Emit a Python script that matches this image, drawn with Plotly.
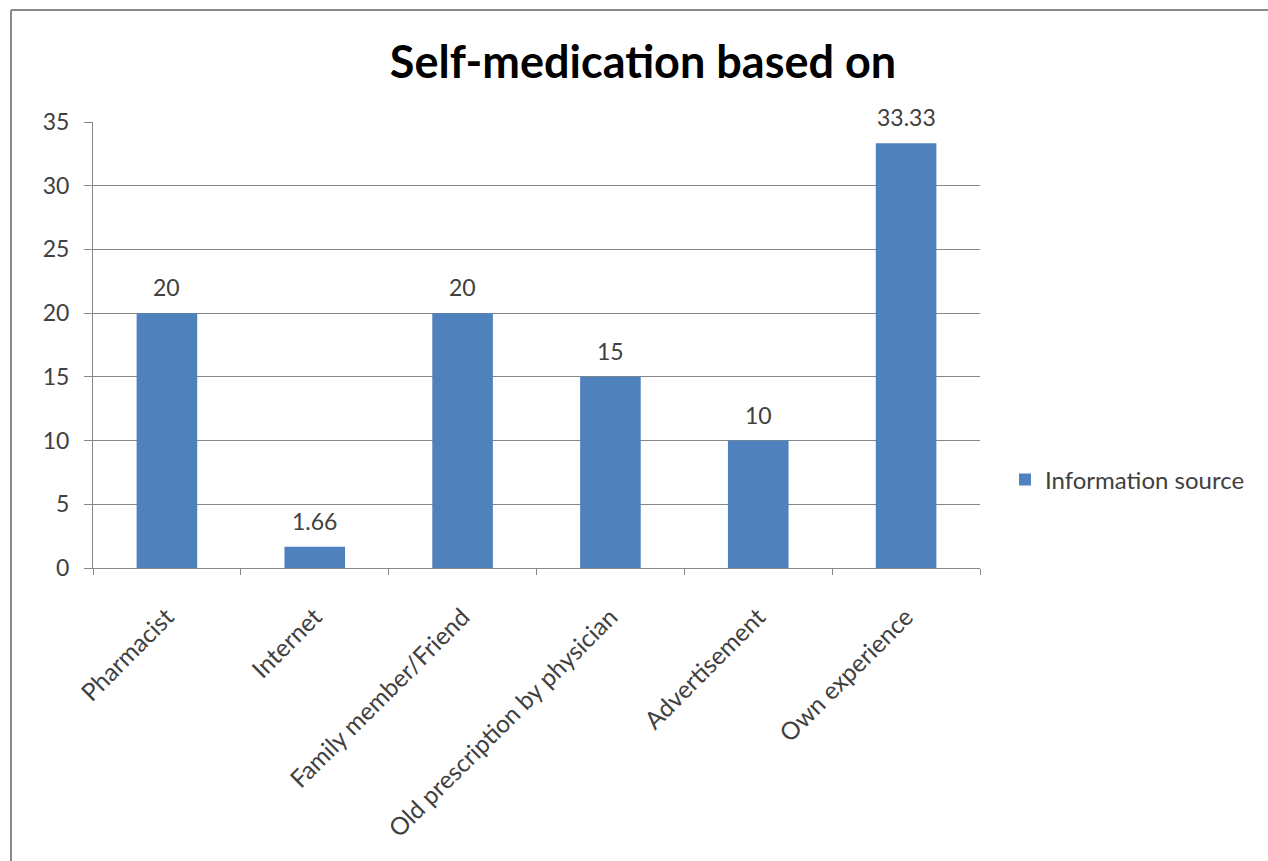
import plotly.graph_objects as go

categories = ["Pharmacist", "Internet", "Family member/Friend",
              "Old prescription by physician", "Advertisement", "Own experience"]
values = [20, 1.66, 20, 15, 10, 33.33]
labels = ["20", "1.66", "20", "15", "10", "33.33"]
series_name = "Information source"
y_ticks = [0, 5, 10, 15, 20, 25, 30, 35]

W, H = 1268, 861
L, R, T, B = 93, 980, 122, 568
pw, ph = R - L, B - T

def px(x):
    return (x - L) / pw

def py(y):
    return (B - y) / ph

font = "Lato, 'Open Sans', sans-serif"
txt = "#404040"

fig = go.Figure(go.Bar(
    x=categories, y=values, name=series_name,
    marker=dict(color="#4F81BD", line=dict(width=0)),
    showlegend=True,
))

for c, v, t in zip(categories, values, labels):
    fig.add_annotation(x=c, y=v, text=t, showarrow=False, yanchor="bottom",
                       yshift=10, font=dict(size=23, color=txt, family=font))

fig.update_layout(
    width=W, height=H,
    margin=dict(l=L, r=W - R, t=T, b=H - B),
    paper_bgcolor="white", plot_bgcolor="white",
    bargap=0.59,
    title=dict(text="<b>Self-medication based on</b>", x=643 / W, xanchor="center",
               y=1 - 62 / H, yanchor="middle",
               font=dict(size=45, color="black", family=font)),
    font=dict(family=font, color=txt),
    legend=dict(x=px(1005), y=py(480), xanchor="left", yanchor="middle",
                font=dict(size=24, color=txt), bgcolor="rgba(0,0,0,0)"),
    xaxis=dict(tickangle=-45, tickfont=dict(size=24.5, color=txt),
               showline=True, linecolor="#868686", linewidth=1,
               ticks="outside", ticklen=6, tickcolor="#868686", tickson="boundaries",
               ticklabelstandoff=24, showgrid=False),
    yaxis=dict(range=[0, 35], tickvals=y_ticks, tickfont=dict(size=23, color=txt),
               showline=True, linecolor="#868686", linewidth=1,
               ticks="outside", ticklen=8, tickcolor="#868686", ticklabelstandoff=10,
               showgrid=True, gridcolor="#868686", gridwidth=1, zeroline=False),
    shapes=[
        dict(type="line", xref="paper", yref="paper",
             x0=px(11), x1=px(W + 5), y0=py(10), y1=py(10),
             line=dict(color="#8a8a8a", width=2)),
        dict(type="line", xref="paper", yref="paper",
             x0=px(11), x1=px(11), y0=py(10), y1=py(H + 5),
             line=dict(color="#8a8a8a", width=2)),
    ],
)

fig.write_html("out.html")
